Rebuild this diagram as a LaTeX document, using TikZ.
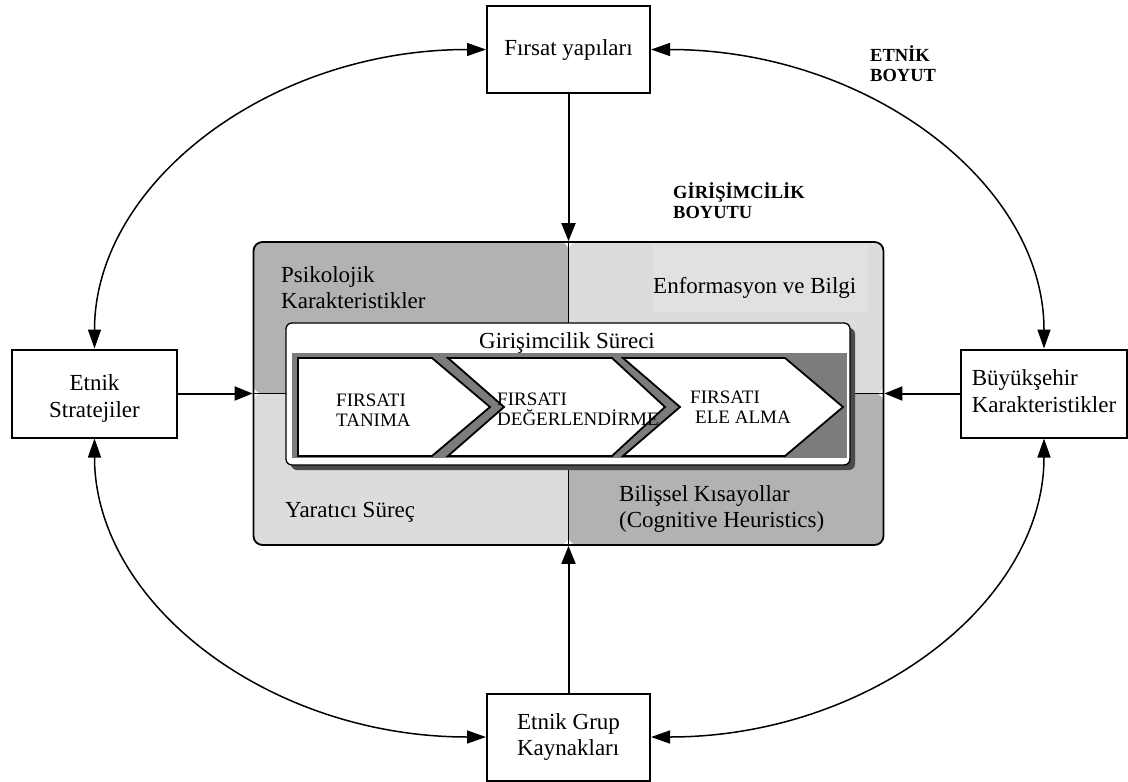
\documentclass[tikz,border=0pt]{standalone}
\usepackage{fontspec}
\setmainfont{Liberation Serif}
\usetikzlibrary{arrows.meta}
\newcommand{\Hstrut}[1]{\rule{0pt}{#1pt}}
\newcommand{\Dstrut}[1]{\rule[-#1pt]{0pt}{#1pt}}
\definecolor{qdark}{HTML}{B2B2B2}
\definecolor{qlight}{HTML}{DCDCDC}
\definecolor{txtlight}{HTML}{E1E1E1}
\definecolor{bandgray}{HTML}{7C7C7C}
\definecolor{shadowgray}{HTML}{4A4A4A}
\begin{document}
\begin{tikzpicture}[x=1pt,y=-1pt,
  outerbox/.style={draw=black, line width=2pt, fill=white, minimum width=163pt,
    minimum height=87pt, inner sep=0pt, font=\fontsize{23}{27}\selectfont},
  conn/.style={line width=2pt, -{Triangle[length=18pt,width=14pt]}},
  bigarc/.style={line width=1.5pt, {Triangle[length=19pt,width=13pt]}-{Triangle[length=19pt,width=13pt]}},
  qtext/.style={font=\fontsize{23}{26.5}\selectfont, inner sep=0pt, align=left},
  chtext/.style={font=\fontsize{19}{19.8}\selectfont, inner sep=0pt, align=left, anchor=north west},
  dimtext/.style={font=\bfseries\fontsize{18.5}{20}\selectfont, inner sep=0pt, align=left, anchor=north west},
  chev/.style={fill=white, draw=black, line width=1.8pt, line join=miter},
  divider/.style={draw=black, line width=1.6pt},
  corebox/.style={draw=black, line width=1.8pt, rounded corners=9pt, minimum width=630pt,
    minimum height=303pt, inner sep=0pt,
    path picture={
      \fill[qdark] (path picture bounding box.north west) rectangle (path picture bounding box.center);
      \fill[qlight] (path picture bounding box.north) rectangle (path picture bounding box.east);
      \fill[qlight] (path picture bounding box.west) rectangle (path picture bounding box.south);
      \fill[qdark] (path picture bounding box.center) rectangle (path picture bounding box.south east);
    }}
]
\useasboundingbox (0,0) rectangle (1128,782);

% central box with four quadrants
\node[corebox] (core) at (568.5,393.5) {};
\draw[divider] (core.north) -- (core.south);
\draw[divider] (core.west) -- (core.east);
\fill[txtlight] (653,245) rectangle (868,312);

% quadrant texts
\node[qtext, anchor=north west] (psk) at (281,265) {\Hstrut{17}Psikolojik\\Karakteristikler};
\node[qtext, anchor=base west] (enf) at (653,293) {Enformasyon ve Bilgi};
\node[qtext, anchor=base west] (yar) at (285,517) {Yaratıcı Süreç};
\node[qtext, anchor=north west] (bil) at (619,484) {\Hstrut{17}Bilişsel Kısayollar\\(Cognitive Heuristics)};

% inner process box
\fill[shadowgray, rounded corners=6pt] (291,328) rectangle (855,470);
\draw[fill=white, draw=black, line width=1.3pt, rounded corners=6pt] (286,323) rectangle (850,465);
\fill[bandgray] (292,353) rectangle (847,458);
\node[font=\fontsize{23}{26}\selectfont, inner sep=0pt, anchor=base] (title) at (567,348) {Girişimcilik Süreci};

% chevrons
\draw[chev] (298,358) -- (432,358) -- (490,407) -- (432,456) -- (298,456) -- cycle;
\draw[chev] (448,358) -- (612,358) -- (665,407) -- (612,456) -- (448,456) -- (504,407) -- cycle;
\draw[chev] (623,358) -- (785,358) -- (843,407) -- (785,456) -- (623,456) -- (680,407) -- cycle;
\node[chtext] (c1) at (336,392) {\Hstrut{14}FIRSATI\\TANIMA};
\node[chtext] (c2) at (497,391) {\Hstrut{14}FIRSATI\\DEĞERLENDİRME};
\node[chtext] (c3) at (690,389) {\Hstrut{14}FIRSATI\\\hspace{5pt}ELE ALMA};

% dimension labels
\node[dimtext] (etb) at (870,44.7) {\Hstrut{17}ETNİK\\BOYUT};
\node[dimtext] (gib) at (673,181.3) {\Hstrut{17}GİRİŞİMCİLİK\\BOYUTU};

% outer boxes
\node[outerbox] (top) at (568.5,49.5) {Fırsat yapıları};
\node[outerbox, align=center, minimum width=165pt, minimum height=88pt] (left) at (94.5,393.5)
  {\Hstrut{26}Etnik\\Stratejiler};
\node[outerbox, align=left, minimum width=166pt, minimum height=88pt] (right) at (1044,393.5)
  {Büyükşehir\\Karakteristikler\Dstrut{5}};
\node[outerbox, align=left, font=\fontsize{23}{25.5}\selectfont] (bottom) at (568.5,737)
  {Etnik Grup\\Kaynakları};

% straight arrows
\draw[conn] (top.south) -- (core.north);
\draw[conn] (bottom.north) -- (core.south);
\draw[conn] (left.east) -- (core.west);
\draw[conn] (right.west) -- (core.east);

% outer arcs
\draw[bigarc] (top.west) .. controls +(-217,0) and +(0,-165) .. (left.north);
\draw[bigarc] (top.east) .. controls +(217,0) and +(0,-165) .. (right.north);
\draw[bigarc] (left.south) .. controls +(0,165) and +(-217,0) .. (bottom.west);
\draw[bigarc] (right.south) .. controls +(0,165) and +(217,0) .. (bottom.east);
\end{tikzpicture}
\end{document}
